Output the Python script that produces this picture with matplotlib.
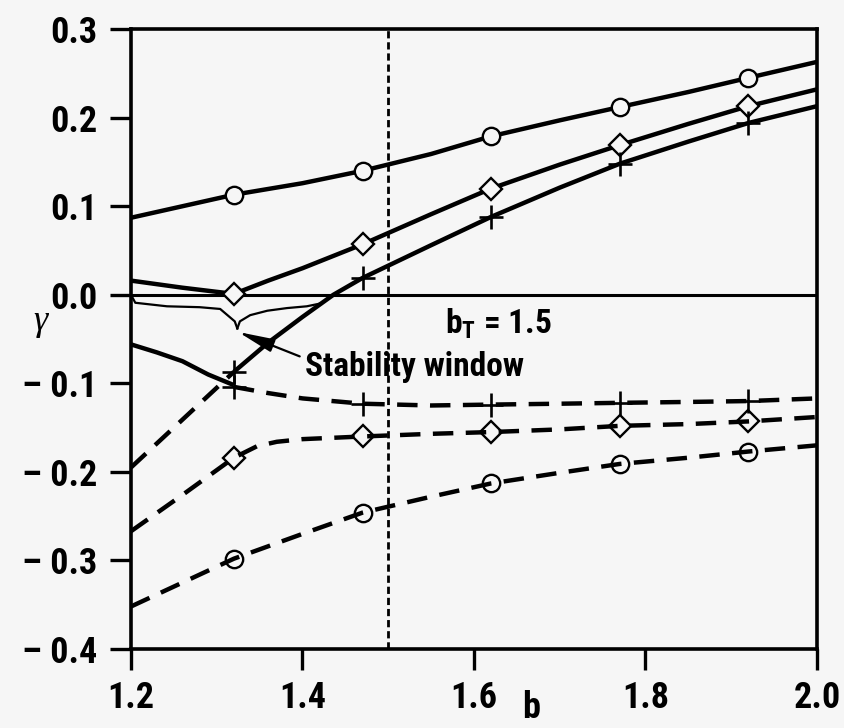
import matplotlib
matplotlib.use("Agg")
import matplotlib.pyplot as plt

BG = "#f6f6f6"
FONT = ["Liberation Sans Narrow", "Roboto Condensed", "Liberation Sans", "DejaVu Sans"]

plt.rcParams["font.family"] = FONT
plt.rcParams["font.weight"] = "bold"
plt.rcParams["mathtext.fontset"] = "custom"
plt.rcParams["mathtext.rm"] = "Roboto Condensed:bold"
plt.rcParams["mathtext.bf"] = "Roboto Condensed:bold"

# b values where the symbols sit
b_marks = [1.32, 1.47, 1.62, 1.77, 1.92]

# circle family: growing (solid) and damped (dashed) branch
circ_up_b = [1.20, 1.26, 1.32, 1.40, 1.47, 1.55, 1.62, 1.70, 1.77, 1.85, 1.92, 2.00]
circ_up_g = [0.087, 0.100, 0.113, 0.126, 0.140, 0.159, 0.179, 0.197, 0.212, 0.229, 0.245, 0.263]
circ_dn_b = [1.20, 1.26, 1.32, 1.40, 1.47, 1.55, 1.62, 1.70, 1.77, 1.85, 1.92, 2.00]
circ_dn_g = [-0.352, -0.325, -0.298, -0.270, -0.246, -0.228, -0.213, -0.201, -0.191, -0.184, -0.177, -0.170]

# diamond family
diam_up_b = [1.20, 1.26, 1.32, 1.36, 1.40, 1.47, 1.55, 1.62, 1.70, 1.77, 1.85, 1.92, 2.00]
diam_up_g = [0.016, 0.008, 0.001, 0.016, 0.030, 0.057, 0.091, 0.120, 0.147, 0.169, 0.193, 0.213, 0.232]
diam_dn_b = [1.20, 1.26, 1.32, 1.347, 1.37, 1.40, 1.47, 1.55, 1.62, 1.70, 1.77, 1.85, 1.92, 2.00]
diam_dn_g = [-0.267, -0.226, -0.184, -0.171, -0.166, -0.163, -0.160, -0.157, -0.155, -0.152, -0.148, -0.146, -0.143, -0.138]

# plus family (the two branches swap at b ~ 1.32)
plus_rise_dash_b = [1.20, 1.26, 1.32]
plus_rise_dash_g = [-0.195, -0.141, -0.087]
plus_rise_b = [1.32, 1.36, 1.40, 1.436, 1.47, 1.55, 1.62, 1.70, 1.77, 1.85, 1.92, 2.00]
plus_rise_g = [-0.087, -0.054, -0.025, 0.0, 0.019, 0.056, 0.088, 0.121, 0.148, 0.173, 0.194, 0.213]
plus_fall_b = [1.20, 1.23, 1.26, 1.29, 1.32]
plus_fall_g = [-0.056, -0.065, -0.075, -0.090, -0.102]
plus_dn_b = [1.32, 1.36, 1.40, 1.47, 1.55, 1.62, 1.70, 1.77, 1.85, 1.92, 2.00]
plus_dn_g = [-0.104, -0.111, -0.117, -0.123, -0.125, -0.124, -0.123, -0.122, -0.121, -0.120, -0.117]

# outline of the stability window
win_left_b = [1.20, 1.205, 1.242, 1.280, 1.304, 1.321, 1.324]
win_left_g = [0.0, -0.009, -0.013, -0.014, -0.016, -0.030, -0.038]
win_right_b = [1.324, 1.327, 1.339, 1.359, 1.382, 1.405, 1.420]
win_right_g = [-0.038, -0.030, -0.023, -0.018, -0.015, -0.013, -0.010]

b_T = 1.5
xticks = [1.2, 1.4, 1.6, 1.8, 2.0]
yticks = [-0.4, -0.3, -0.2, -0.1, 0.0, 0.1, 0.2, 0.3]
ylabels = ["\u2013 0.4", "\u2013 0.3", "\u2013 0.2", "\u2013 0.1", "0.0", "0.1", "0.2", "0.3"]


def draw(ax, b, g, marker=None, dashed=False, mark=True):
    ls = (0, (4.6, 2.8)) if dashed else "-"
    idx = [i for i, v in enumerate(b) if any(abs(v - m) < 1e-9 for m in b_marks)] if mark else []
    if marker == "+":
        ms, mfc, mew = 17, "none", 1.9
    elif marker == "D":
        ms, mfc, mew = 11, ("none" if dashed else BG), 1.7
    else:
        ms, mfc, mew = 12.5, ("none" if dashed else BG), 1.7
    ax.plot(b, g, color="black", lw=3.2, ls=ls, solid_capstyle="butt",
            marker=marker if idx else None, markevery=idx if idx else None,
            ms=ms, mfc=mfc, mec="black", mew=mew, zorder=3)


fig = plt.figure(figsize=(8.44, 7.28), dpi=100, facecolor=BG)
ax = fig.add_axes([0.1552, 0.1085, 0.8128, 0.8515], facecolor=BG)

ax.axhline(0.0, color="black", lw=2.2, zorder=2)
ax.axvline(b_T, color="black", lw=2.0, ls=(0, (2.6, 1.4)), zorder=2)

# stability window outline
ax.plot(win_left_b, win_left_g, color="black", lw=1.6, zorder=2)
ax.plot(win_right_b, win_right_g, color="black", lw=1.6, zorder=2)

draw(ax, circ_up_b, circ_up_g, "o")
draw(ax, circ_dn_b, circ_dn_g, "o", dashed=True)
draw(ax, diam_up_b, diam_up_g, "D")
draw(ax, diam_dn_b, diam_dn_g, "D", dashed=True)
draw(ax, plus_rise_dash_b, plus_rise_dash_g, dashed=True, mark=False)
draw(ax, plus_rise_b, plus_rise_g, "+")
draw(ax, plus_fall_b, plus_fall_g, mark=False)
draw(ax, plus_dn_b, plus_dn_g, "+", dashed=True)

ax.annotate("Stability window", xy=(1.325, -0.042), xytext=(1.403, -0.081),
            fontsize=24, fontweight="bold", ha="left", va="center",
            arrowprops=dict(arrowstyle="-|>,head_length=1.1,head_width=0.2",
                            color="black", lw=1.6, mutation_scale=20,
                            shrinkA=2, shrinkB=0, relpos=(0.0, 0.75)))
ax.text(1.566, -0.043, r"b$_{\mathrm{T}}$ = 1.5", fontsize=24, fontweight="bold",
        ha="left", va="baseline")

ax.set_xlim(1.2, 2.0)
ax.set_ylim(-0.4, 0.3)
ax.set_xticks(xticks)
ax.set_xticklabels(["%.1f" % v for v in xticks])
ax.set_yticks(yticks)
ax.set_yticklabels(ylabels)
ax.tick_params(direction="out", length=15, width=2.4, labelsize=26, pad=7)
ax.tick_params(axis="y", pad=9)
for s in ax.spines.values():
    s.set_linewidth(2.6)

fig.text(531 / 844, 1 - 708 / 728, "b", fontsize=26, fontweight="bold",
         ha="center", va="center")
fig.text(40 / 844, 1 - 322 / 728, "\u03b3", fontsize=26, fontweight="normal",
         style="italic", family=["Liberation Serif", "DejaVu Serif"],
         ha="center", va="center")

fig.savefig("out.png", dpi=100, facecolor=BG)
